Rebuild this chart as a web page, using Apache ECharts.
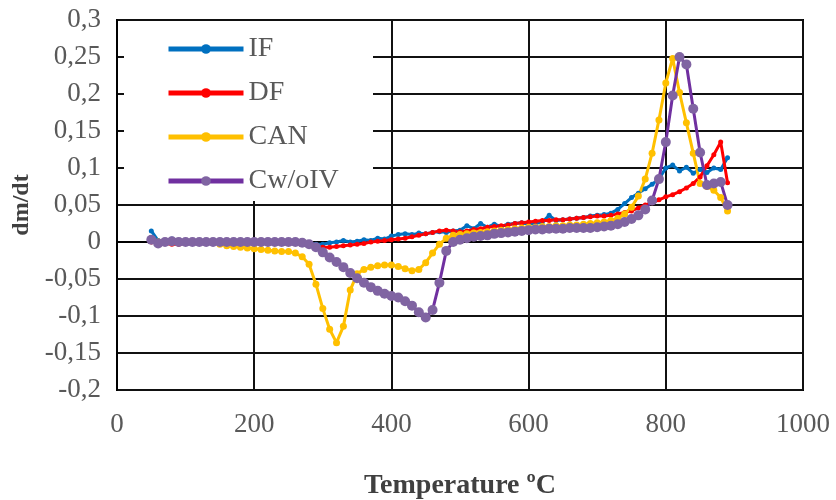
<!DOCTYPE html>
<html>
<head>
<meta charset="utf-8">
<script src="https://cdn.jsdelivr.net/npm/echarts@6/dist/echarts.min.js"></script>
<style>
html, body { margin: 0; padding: 0; background: #fff; }
#chart { width: 836px; height: 500px; }
</style>
</head>
<body>
<div id="chart"></div>
<script>
// temperature (ºC) of every reading
var temps = [50,60,70,80,90,100,110,120,130,140,150,160,170,180,190,200,210,220,230,240,
    250,260,270,280,290,300,310,320,330,340,350,360,370,380,390,400,410,420,430,440,
    450,460,470,480,490,500,510,520,530,540,550,560,570,580,590,600,610,620,630,640,
    650,660,670,680,690,700,710,720,730,740,750,760,770,780,790,800,810,820,830,840,
    850,860,870,880,890];

var ifVals = [0.015,0.002,0.002,0.004,0.002,0.001,0.001,0.000,0.001,0.000,0.001,0.000,0.001,0.000,0.000,0.001,0.000,0.000,0.001,0.000,
    0.000,0.001,0.000,-0.002,-0.003,-0.003,-0.001,0.000,0.002,0.000,0.001,0.003,0.002,0.005,0.004,0.008,0.010,0.011,0.010,0.012,
    0.011,0.013,0.014,0.013,0.015,0.016,0.022,0.018,0.025,0.020,0.024,0.021,0.024,0.025,0.026,0.024,0.025,0.027,0.036,0.029,
    0.030,0.031,0.032,0.033,0.035,0.036,0.037,0.039,0.044,0.052,0.060,0.066,0.072,0.078,0.085,0.100,0.104,0.096,0.101,0.093,
    0.098,0.094,0.100,0.098,0.114];

var dfVals = [0.000,0.000,-0.002,-0.003,-0.003,-0.002,-0.001,-0.001,0.000,-0.001,0.000,-0.001,0.000,-0.001,0.000,-0.001,0.000,-0.001,0.000,-0.001,
    0.000,-0.001,-0.002,-0.004,-0.006,-0.007,-0.007,-0.006,-0.005,-0.004,-0.003,-0.002,0.000,0.001,0.002,0.003,0.004,0.005,0.007,0.009,
    0.011,0.013,0.015,0.016,0.015,0.014,0.015,0.017,0.018,0.020,0.021,0.022,0.023,0.025,0.026,0.027,0.028,0.029,0.029,0.030,
    0.030,0.031,0.032,0.033,0.034,0.035,0.035,0.036,0.038,0.040,0.042,0.046,0.050,0.053,0.057,0.061,0.064,0.068,0.073,0.079,
    0.088,0.103,0.118,0.135,0.080];

var canVals = [0.002,0.000,0.000,0.000,0.000,0.000,0.000,0.000,0.000,0.000,-0.003,-0.005,-0.006,-0.007,-0.008,-0.009,-0.010,-0.011,-0.012,-0.013,
    -0.013,-0.015,-0.020,-0.030,-0.057,-0.090,-0.118,-0.136,-0.114,-0.065,-0.043,-0.037,-0.034,-0.032,-0.031,-0.031,-0.033,-0.036,-0.039,-0.037,
    -0.028,-0.015,-0.003,0.005,0.009,0.010,0.011,0.012,0.013,0.014,0.015,0.016,0.017,0.018,0.019,0.020,0.020,0.021,0.021,0.022,
    0.022,0.023,0.023,0.024,0.025,0.026,0.027,0.029,0.032,0.038,0.047,0.062,0.085,0.120,0.165,0.215,0.248,0.202,0.161,0.120,
    0.079,0.075,0.070,0.060,0.042];

var cwoVals = [0.003,-0.002,0.000,0.001,0.000,0.000,0.000,0.000,0.000,0.000,0.000,0.000,0.000,0.000,0.000,0.000,0.000,0.000,0.000,0.000,
    0.000,0.000,-0.001,-0.003,-0.007,-0.014,-0.021,-0.027,-0.034,-0.042,-0.049,-0.055,-0.061,-0.066,-0.070,-0.073,-0.075,-0.080,-0.086,-0.095,
    -0.102,-0.092,-0.055,-0.012,0.000,0.003,0.005,0.007,0.008,0.009,0.011,0.012,0.013,0.014,0.015,0.016,0.017,0.017,0.018,0.018,
    0.018,0.019,0.019,0.019,0.019,0.020,0.021,0.022,0.024,0.027,0.031,0.036,0.044,0.056,0.085,0.135,0.198,0.250,0.240,0.180,
    0.121,0.077,0.079,0.081,0.050];

var xTicks = { min: 0, max: 1000, step: 200 };
var yTicks = { min: -0.2, max: 0.3, step: 0.05 };

function pairs(vals) {
    return temps.map(function (t, i) { return [t, vals[i]]; });
}

var serif = 'Liberation Serif';

function lineSeries(name, vals, lineColor, dotColor, dotSize) {
    return {
        name: name,
        type: 'line',
        data: pairs(vals),
        symbol: 'circle',
        symbolSize: dotSize,
        showAllSymbol: true,
        lineStyle: { color: lineColor, width: 3 },
        itemStyle: { color: dotColor },
        emphasis: { disabled: true }
    };
}

var option = {
    animation: false,
    backgroundColor: '#fff',
    grid: {
        left: 117, right: 33, top: 20, bottom: 110,
        outerBoundsMode: 'none',
        containLabel: false,
        show: true, borderColor: '#000', borderWidth: 2
    },
    legend: {
        orient: 'vertical',
        left: 161,
        top: 30,
        itemWidth: 75,
        itemHeight: 12,
        itemGap: 16,
        lineStyle: { width: 5 },
        textStyle: { fontFamily: serif, fontSize: 28, color: '#595959', lineHeight: 28 },
        data: ['IF', 'DF', 'CAN', 'Cw/oIV']
    },
    graphic: [{
        type: 'rect',
        z: 1,
        shape: { x: 124, y: 21, width: 249, height: 180 },
        style: { fill: '#fff' }
    }],
    xAxis: {
        type: 'value',
        min: xTicks.min, max: xTicks.max, interval: xTicks.step,
        name: 'Temperature ºC',
        nameLocation: 'middle',
        nameGap: 82,
        nameTextStyle: { fontFamily: serif, fontSize: 28, fontWeight: 'bold', color: '#404040' },
        axisLine: { lineStyle: { color: '#000', width: 2 } },
        axisTick: { show: false },
        axisLabel: {
            fontFamily: serif, fontSize: 27, color: '#595959', margin: 21,
            formatter: function (v) { return String(v); }
        },
        splitLine: { show: true, lineStyle: { color: '#111', width: 2 } }
    },
    yAxis: {
        type: 'value',
        min: yTicks.min, max: yTicks.max, interval: yTicks.step,
        name: 'dm/dt',
        nameLocation: 'middle',
        nameGap: 66,
        nameTextStyle: { fontFamily: serif, fontSize: 24, fontWeight: 'bold', color: '#404040' },
        axisLine: { show: true, lineStyle: { color: '#000', width: 2 } },
        axisTick: { show: false },
        axisLabel: {
            fontFamily: serif, fontSize: 27, color: '#595959', margin: 16,
            formatter: function (v) { return String(Number(v.toFixed(2))).replace('.', ','); }
        },
        splitLine: { show: true, lineStyle: { color: '#111', width: 2 } }
    },
    series: [
        lineSeries('IF', ifVals, '#0070C0', '#0070C0', 5),
        lineSeries('DF', dfVals, '#FF0000', '#FF0000', 5),
        lineSeries('CAN', canVals, '#FFC000', '#FFC000', 7),
        lineSeries('Cw/oIV', cwoVals, '#7030A0', '#8064A2', 10)
    ]
};

var chart = echarts.init(document.getElementById('chart'));
chart.setOption(option, true);
</script>
</body>
</html>
